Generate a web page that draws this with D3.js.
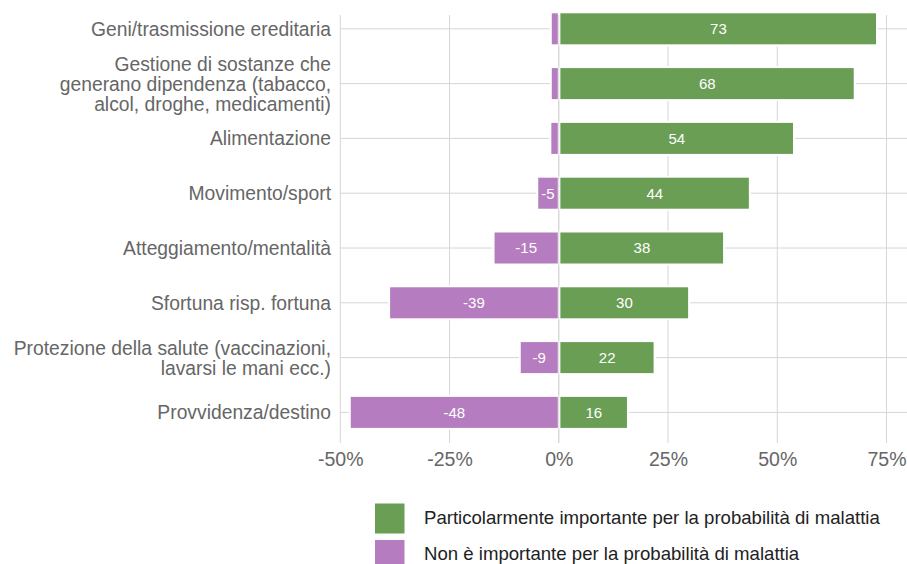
<!DOCTYPE html>
<html>
<head>
<meta charset="utf-8">
<script src="https://cdn.jsdelivr.net/npm/d3@7"></script>
<style>
  body { margin: 0; background: #fff; }
  svg { display: block; font-family: "Liberation Sans", Arial, Helvetica, sans-serif; }
</style>
</head>
<body>
<svg id="chart" width="907" height="564"></svg>
<script>
// ---- data ----
const categories = [
  "Geni/trasmissione ereditaria",
  "Gestione di sostanze che\ngenerano dipendenza (tabacco,\nalcol, droghe, medicamenti)",
  "Alimentazione",
  "Movimento/sport",
  "Atteggiamento/mentalità",
  "Sfortuna risp. fortuna",
  "Protezione della salute (vaccinazioni,\nlavarsi le mani ecc.)",
  "Provvidenza/destino"
];
const importantValues = [72.6, 67.5, 53.6, 43.5, 37.6, 29.6, 21.7, 15.6];
const notImportantValues = [-1.6, -1.6, -1.7, -4.7, -14.7, -38.6, -8.7, -47.6];
const seriesNames = [
  "Particolarmente importante per la probabilità di malattia",
  "Non è importante per la probabilità di malattia"
];
const xTicks = [-50, -25, 0, 25, 50, 75];

const colors = ["#6a9e55", "#b57cbf"];

const svg = d3.select("#chart");
const x = d3.scaleLinear().domain([-50, 75]).range([340.3, 886.5]);
const y = d3.scaleBand().domain(categories).range([1.4, 439.8]).paddingInner(0.434).paddingOuter(0.217);
const gridTop = 15, gridBottom = 440;

// vertical gridlines
svg.append("g").selectAll("line").data(xTicks).join("line")
  .attr("x1", d => x(d)).attr("x2", d => x(d))
  .attr("y1", gridTop).attr("y2", gridBottom + 3)
  .attr("stroke", "#d6d6d6").attr("stroke-width", 1);

// horizontal gridlines
svg.append("g").selectAll("line").data(categories).join("line")
  .attr("x1", 340).attr("x2", 907)
  .attr("y1", d => y(d) + y.bandwidth() / 2).attr("y2", d => y(d) + y.bandwidth() / 2)
  .attr("stroke", "#d6d6d6").attr("stroke-width", 1);

const rows = categories.map((c, i) => ({ c, pos: importantValues[i], neg: notImportantValues[i] }));

const bars = svg.append("g");
// positive bars
bars.selectAll("rect.pos").data(rows).join("rect").attr("class", "pos")
  .attr("x", d => x(0) + 0.6)
  .attr("width", d => x(d.pos) + 1 - (x(0) + 0.6))
  .attr("y", d => y(d.c) - 1)
  .attr("height", y.bandwidth() + 2)
  .attr("fill", colors[0]).attr("stroke", "#fff").attr("stroke-width", 2);
// negative bars
bars.selectAll("rect.neg").data(rows).join("rect").attr("class", "neg")
  .attr("x", d => x(d.neg) - 1)
  .attr("width", d => x(0) - (x(d.neg) - 1))
  .attr("y", d => y(d.c) - 1)
  .attr("height", y.bandwidth() + 2)
  .attr("fill", colors[1]).attr("stroke", "#fff").attr("stroke-width", 2);

// zero line on top
svg.append("line")
  .attr("x1", x(0)).attr("x2", x(0)).attr("y1", gridTop).attr("y2", gridBottom + 3)
  .attr("stroke", "#d6d6d6").attr("stroke-width", 1);

// bar labels
const lab = svg.append("g").attr("fill", "#fff").attr("font-size", 15).attr("text-anchor", "middle");
lab.selectAll("text.pos").data(rows).join("text").attr("class", "pos")
  .attr("x", d => (x(0) + x(d.pos)) / 2 + 1)
  .attr("y", d => y(d.c) + y.bandwidth() / 2)
  .attr("dy", "0.36em")
  .text(d => Math.round(d.pos));
lab.selectAll("text.neg").data(rows.filter(d => Math.abs(d.neg) >= 3)).join("text").attr("class", "neg")
  .attr("x", d => (x(0) + x(d.neg)) / 2 - 0.5)
  .attr("y", d => y(d.c) + y.bandwidth() / 2)
  .attr("dy", "0.36em")
  .text(d => Math.round(d.neg));

// x axis labels
const xAxis = d3.axisBottom(x).tickValues(xTicks).tickSize(0).tickPadding(0).tickFormat(d => d + "%");
const xg = svg.append("g").attr("transform", `translate(0, 465.5)`).call(xAxis);
xg.select(".domain").remove();
xg.selectAll("text").attr("fill", "#666").attr("font-size", 19.5).attr("font-family", null).attr("dy", 0);

// y axis labels
const yg = svg.append("g").attr("fill", "#666").attr("font-size", 19.3).attr("text-anchor", "end");
categories.forEach(c => {
  const lines = c.split("\n");
  const cy = y(c) + y.bandwidth() / 2;
  const t = yg.append("text").attr("x", 331).attr("y", cy);
  lines.forEach((ln, i) => {
    t.append("tspan").attr("x", 331)
      .attr("y", cy + 7 + (i - (lines.length - 1) / 2) * 20)
      .text(ln);
  });
});

// legend
const leg = svg.append("g");
const legY = [503.5, 540];
const legTextY = [523.5, 559.5];
seriesNames.forEach((s, i) => {
  leg.append("rect").attr("x", 375).attr("y", legY[i]).attr("width", 29.5).attr("height", 30)
    .attr("fill", colors[i]);
  leg.append("text").attr("x", 424).attr("y", legTextY[i]).attr("fill", "#222")
    .attr("font-size", 18.6).text(s);
});
</script>
</body>
</html>
